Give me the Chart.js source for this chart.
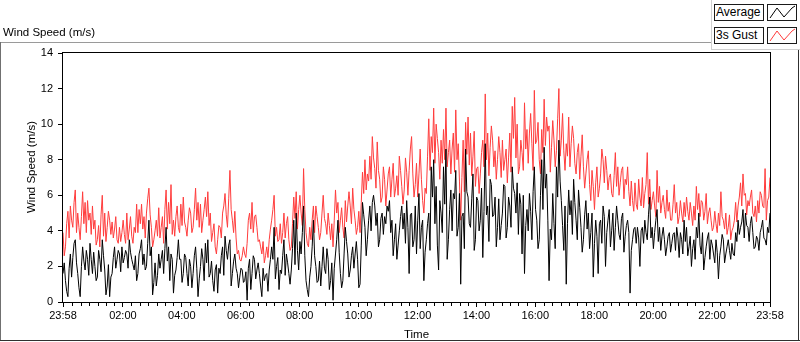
<!DOCTYPE html>
<html>
<head>
<meta charset="utf-8">
<script src="https://cdn.jsdelivr.net/npm/chart.js@4.4.0/dist/chart.umd.min.js"></script>
<style>
html,body{margin:0;padding:0;background:#fff;}
#wrap{position:relative;width:800px;height:342px;overflow:hidden;font-family:"Liberation Sans",Arial,sans-serif;color:#000;}
#c{position:absolute;left:0;top:0;}
.ln{position:absolute;}
.title{position:absolute;left:3px;top:26px;font-size:11.5px;line-height:12px;white-space:nowrap;}
.lgbox{position:absolute;box-sizing:border-box;border:1px solid #1a1a1a;background:#fff;font-size:12px;line-height:15px;padding-left:1px;white-space:nowrap;}
.lgicon{position:absolute;box-sizing:border-box;border:1px solid #1a1a1a;background:#fff;}
</style>
</head>
<body>
<div id="wrap">
  <canvas id="c" width="800" height="342"></canvas>
  <div class="ln" style="left:0;top:42px;width:712px;height:1px;background:#9a9a9a"></div>
  <div class="ln" style="left:0;top:42px;width:1px;height:299px;background:#707070"></div>
  <div class="ln" style="left:0;top:340px;width:800px;height:1px;background:#303030"></div>
  <div class="ln" style="left:798px;top:49px;width:1px;height:292px;background:#303030"></div>
  <div class="ln" style="left:711px;top:0;width:1px;height:50px;background:#d0d0d0"></div>
  <div class="ln" style="left:711px;top:49px;width:89px;height:1px;background:#d0d0d0"></div>
  <div class="title">Wind Speed (m/s)</div>
  <div class="lgbox" style="left:714px;top:4px;width:50px;height:17px;">Average</div>
  <div class="lgicon" style="left:767px;top:4px;width:30px;height:17px;">
    <svg width="28" height="15" style="position:absolute;left:0;top:0"><polyline points="2,13 9,3 16,12 24,3 27,1" fill="none" stroke="#000" stroke-width="1"/></svg>
  </div>
  <div class="lgbox" style="left:714px;top:27px;width:50px;height:17px;">3s Gust</div>
  <div class="lgicon" style="left:767px;top:27px;width:30px;height:17px;">
    <svg width="28" height="15" style="position:absolute;left:0;top:0"><polyline points="2,13 9,3 16,12 24,3 27,1" fill="none" stroke="#ff3c3c" stroke-width="1"/></svg>
  </div>
</div>
<script>
// Readings every 2.5 minutes starting 23:58.
// "On" = readings at 23:58 + 5k min, "Mid" = readings at 23:58 + 5k + 2.5 min
const SAMPLE_MIN = 2.5;

// Average wind speed (m/s), readings at 5-minute marks
const avgOn = [
1.6,1.2,0.3,2.7,2.5,3.5,1.6,0.3,3.1,1.8,2.4,3.3,1.6,2.0,1.4,2.4,3.5,1.8,0.9,0.3,1.6,3.1,2.4,2.7,3.1,2.5,2.7,3.5,2.4,1.8,1.2,2.7,3.5,2.7,2.0,4.6,3.1,1.1,0.9,2.7,2.4,1.6,4.2,3.1,2.7,0.5,1.8,3.5,
2.4,1.6,2.5,0.9,2.0,1.6,3.1,0.3,2.0,2.4,3.3,3.5,1.6,1.2,1.8,0.5,1.6,3.1,3.7,2.4,3.5,1.6,2.7,1.6,1.4,1.8,1.2,0.1,2.4,1.6,2.4,1.8,1.6,0.3,1.2,1.6,1.8,3.1,4.2,2.0,0.7,1.6,3.5,2.7,1.6,1.8,4.6,
5.0,1.8,2.7,5.4,1.2,0.3,2.0,4.6,2.0,1.2,0.9,3.1,1.6,2.4,1.2,0.1,2.7,4.6,1.6,1.2,4.2,2.7,1.8,3.1,2.7,2.4,1.0,5.6,4.2,3.5,5.4,5.6,5.4,5.0,3.5,5.0,4.8,5.4,5.7,4.6,3.5,2.4,4.0,5.4,5.0,5.7,1.6,
5.0,3.5,2.7,6.1,4.2,1.2,3.5,5.0,7.6,8.0,6.5,1.8,5.0,7.6,8.6,3.5,6.3,6.1,7.4,4.2,1.0,5.0,8.6,5.9,4.2,7.2,3.5,5.7,4.6,2.5,8.9,5.4,6.9,4.8,5.9,4.2,3.5,5.0,6.5,4.2,5.4,7.6,6.1,6.7,6.1,2.7,1.6,
5.2,6.1,3.5,7.6,4.6,3.5,8.0,8.7,7.2,1.2,3.5,4.4,7.6,9.1,5.7,2.9,1.0,6.3,5.7,6.9,4.6,6.3,4.2,3.5,5.7,5.0,3.9,1.4,4.6,1.6,4.6,5.4,2.0,4.6,3.1,5.0,4.2,4.6,3.5,5.0,3.7,4.6,0.5,3.5,4.2,4.2,2.0,
4.2,4.6,3.5,5.9,4.2,3.9,5.2,4.2,3.7,3.5,3.1,3.9,3.3,3.9,4.2,2.5,3.5,4.6,4.2,3.1,2.0,3.5,4.2,5.0,2.7,1.8,3.1,3.9,3.5,2.7,3.5,1.3,3.1,3.5,2.7,3.5,2.4,2.7,3.9,4.6,4.2,5.2,5.0,4.2,4.4,3.9,3.1,3.5,3.9,4.6,3.5,4.2,5.0
];
// Average wind speed (m/s), readings half-way between
const avgMid = [
2.2,0.6,1.9,1.4,3.3,2.2,0.8,2.0,2.3,2.9,1.5,2.4,2.8,1.2,2.9,1.7,2.6,0.4,2.1,1.4,2.5,1.9,2.9,1.7,2.2,2.9,1.9,2.8,2.1,2.6,1.6,3.0,2.1,1.8,3.3,2.6,0.4,2.2,1.5,1.9,2.9,3.0,2.3,1.2,2.4,1.5,2.5,2.4,
1.1,2.7,1.6,2.4,0.8,2.6,1.9,1.3,3.0,1.2,2.2,1.4,2.3,0.6,2.1,1.9,2.6,1.5,2.9,3.2,0.9,2.3,1.9,0.8,1.9,1.1,1.7,1.9,0.7,2.6,1.3,2.2,0.9,1.9,1.5,0.6,2.4,2.4,1.3,2.5,1.8,2.6,1.5,2.2,1.0,3.0,2.1,
2.9,3.4,3.9,2.6,0.7,1.4,3.1,2.6,1.1,2.3,2.0,1.9,3.0,0.7,2.2,1.9,3.5,2.8,0.8,2.7,3.4,1.4,2.6,1.9,3.4,0.8,3.2,4.9,2.6,4.6,4.0,6.0,4.3,3.1,4.7,3.8,4.4,5.1,3.9,2.6,4.4,3.2,4.8,4.1,3.3,4.2,4.9,
3.1,5.4,4.6,3.0,4.6,2.8,4.4,2.9,5.9,4.4,3.2,5.7,3.9,5.5,2.4,5.2,4.0,5.8,3.7,6.1,4.8,3.0,6.2,4.4,5.8,2.9,5.9,4.0,6.4,5.1,4.9,3.4,6.6,4.9,3.1,5.8,4.3,6.6,3.6,5.9,4.2,6.4,5.0,3.8,5.5,6.0,4.3,
4.0,5.1,6.2,5.2,3.0,6.0,5.2,6.4,4.6,4.1,6.1,3.0,5.9,6.8,4.3,5.4,4.4,4.9,3.8,5.6,3.5,5.3,2.8,4.9,4.1,3.0,5.0,3.3,3.7,4.4,3.3,4.8,3.9,5.2,4.0,2.9,5.4,3.8,4.7,2.8,4.3,3.9,2.9,4.1,3.3,3.6,4.0,
3.3,3.9,4.9,3.6,3.0,4.6,3.4,2.9,4.2,2.6,3.7,2.8,3.8,2.9,3.6,3.9,2.7,3.4,2.6,3.7,3.0,2.4,3.6,3.2,3.9,2.5,3.6,2.4,3.2,2.2,2.8,2.6,3.8,2.2,3.1,2.9,3.3,2.6,3.4,3.8,4.5,3.6,4.3,3.4,4.8,3.0,3.7,2.9,4.2,3.6,3.2,3.9
];

// 3 s gust wind speed (m/s), readings at 5-minute marks
const gustOn = [
3.9,3.1,5.1,5.4,4.2,6.3,5.0,3.5,6.2,5.6,5.7,5.0,5.4,4.6,3.5,3.1,6.0,5.0,4.2,4.6,4.5,4.1,3.5,4.2,3.9,3.8,5.0,4.1,3.7,4.2,5.5,5.2,5.5,4.8,5.0,6.4,4.2,3.5,4.6,5.3,4.2,3.3,6.3,5.6,6.6,4.6,4.8,4.2,
5.5,5.9,4.2,4.6,5.0,4.2,6.4,5.6,5.5,4.6,5.9,6.2,5.0,3.9,3.1,3.5,4.2,5.0,6.1,4.2,7.4,4.6,5.1,2.7,2.4,2.6,2.7,3.3,5.0,5.6,4.8,4.2,3.5,2.7,2.2,3.1,3.5,4.6,6.0,4.2,3.5,3.3,5.0,4.4,3.5,3.1,5.9,
6.2,5.2,5.0,7.5,3.9,3.1,3.5,5.4,5.4,4.2,3.9,6.0,4.4,5.0,3.5,3.1,6.3,5.6,4.6,4.2,5.7,5.4,5.4,6.4,4.6,4.2,3.9,7.3,8.0,7.2,8.2,9.3,7.5,9.0,6.9,5.9,6.9,6.3,7.6,6.9,5.9,7.1,8.2,6.5,6.3,7.3,7.4,
9.3,5.9,7.8,7.2,6.9,5.0,6.1,10.3,9.3,10.9,10.0,8.4,9.1,9.7,10.9,8.4,7.2,9.5,10.8,8.9,4.6,9.1,10.1,10.4,9.5,8.2,6.5,7.6,7.2,9.1,11.7,9.5,8.7,9.1,8.5,8.0,8.4,9.1,8.0,6.7,9.5,11.0,11.5,10.0,7.6,8.4,11.2,
9.7,9.5,8.9,11.9,9.1,8.0,9.7,11.4,10.4,9.9,8.7,9.1,8.5,12.0,9.1,8.5,8.9,10.4,8.9,9.2,7.2,8.9,8.2,7.6,7.2,8.5,5.7,6.5,6.7,5.9,7.2,8.0,8.2,6.3,7.2,5.9,8.4,7.6,6.7,7.6,6.9,7.6,5.4,5.7,6.7,5.2,5.9,
7.0,6.1,8.4,6.9,5.7,5.4,7.4,6.5,5.6,5.2,6.3,5.6,4.6,6.6,5.6,4.8,5.0,5.6,5.9,4.6,5.0,5.4,6.5,6.1,5.7,4.6,6.1,5.0,4.6,4.2,4.4,5.0,6.2,4.6,5.0,4.2,3.5,4.2,5.6,5.4,6.7,7.2,6.1,5.7,5.9,5.0,5.4,5.7,6.2,5.4,7.5,5.7,7.0
];
// 3 s gust wind speed (m/s), readings half-way between
const gustMid = [
2.6,4.4,3.6,4.6,5.6,3.9,4.2,4.8,4.4,3.9,4.6,3.8,4.1,3.2,4.3,4.9,3.7,3.4,5.1,3.8,3.6,4.8,3.3,3.4,4.6,3.3,3.5,4.8,3.3,3.9,3.9,4.4,4.1,3.6,5.8,4.9,3.1,4.0,3.7,3.6,4.8,5.2,4.1,4.4,3.8,3.7,5.4,3.9,
4.3,4.5,3.7,5.3,3.9,5.2,4.6,4.2,3.9,5.2,4.8,4.3,3.4,4.4,2.7,4.3,3.6,5.4,4.9,5.8,5.2,3.9,3.6,2.9,2.3,3.1,2.5,4.6,4.1,3.9,4.9,3.4,3.1,3.4,2.6,2.5,4.1,5.2,3.7,3.4,4.4,3.9,3.6,4.8,2.9,4.4,4.7,
4.1,6.0,4.3,5.2,3.3,4.2,4.6,3.9,4.8,3.5,5.0,4.7,3.8,4.3,4.4,4.6,5.0,3.9,5.3,3.6,4.5,6.2,4.4,5.2,3.8,5.1,5.6,6.1,6.3,6.8,6.9,8.1,6.4,7.4,5.6,7.6,5.4,7.2,5.9,7.8,6.4,6.0,7.4,5.5,8.1,6.0,8.6,
7.2,6.6,5.9,8.6,5.7,6.4,8.2,7.4,8.4,7.8,9.2,6.9,7.8,8.0,7.6,9.1,8.6,7.3,8.0,6.8,7.0,6.2,8.3,7.7,7.1,9.6,7.5,6.1,8.4,7.6,8.0,7.1,9.9,7.6,6.9,9.3,7.0,7.4,8.6,8.1,7.3,9.2,8.1,7.2,9.1,7.4,8.6,
7.8,10.6,7.4,8.9,10.1,7.2,8.4,8.8,9.6,7.3,10.2,7.6,10.3,8.2,10.6,7.4,8.2,7.6,9.9,7.8,8.4,6.9,9.4,6.4,8.0,6.6,7.4,5.2,7.6,6.4,8.6,6.7,7.4,7.0,6.1,7.1,6.5,6.0,7.4,5.8,6.6,6.2,6.8,5.1,5.5,6.9,5.4,
5.3,6.6,5.5,5.2,6.2,4.8,5.6,5.0,6.0,4.7,5.1,4.6,5.5,5.0,4.4,5.7,4.5,4.8,5.1,5.6,4.3,4.6,5.2,4.8,5.6,5.1,4.4,5.3,4.0,5.1,3.9,4.3,4.8,4.1,3.8,4.9,4.0,4.6,4.5,5.9,5.4,6.0,4.9,5.4,6.3,4.8,4.5,5.0,6.0,5.3,4.6,5.9
];

// Time axis: major tick positions (minutes after 23:58) and their labels
const majorTickMinutes = [0,122,242,362,482,602,722,842,962,1082,1202,1322,1440];
const majorTickLabels = ['23:58','02:00','04:00','06:00','08:00','10:00','12:00','14:00','16:00','18:00','20:00','22:00','23:58'];
const yTickValues = [0,2,4,6,8,10,12,14];

function merge(on, mid) {
  const out = [];
  for (let i = 0; i < on.length; i++) {
    out.push(on[i]);
    if (i < mid.length) out.push(mid[i]);
  }
  return out;
}
const avgSpeed = merge(avgOn, avgMid);
const gustSpeed = merge(gustOn, gustMid);
const minutes = avgSpeed.map((_, i) => i * SAMPLE_MIN);

// minor ticks: 7 intervals per 2-hour span
const minorTicks = [];
const MINOR = 120 / 7;
for (let k = 1; k <= 6; k++) minorTicks.push(122 - k * MINOR);
for (let j = 1; j < majorTickMinutes.length - 1; j++) {
  for (let k = 1; k <= 6; k++) {
    const v = majorTickMinutes[j] + k * MINOR;
    if (v < 1440) minorTicks.push(v);
  }
}

const FONT = '"Liberation Sans", Arial, sans-serif';

const framePlugin = {
  id: 'frame',
  afterDatasetsDraw(chart) {
    const {ctx, chartArea: a, scales} = chart;
    ctx.save();
    ctx.strokeStyle = '#000';
    ctx.lineWidth = 1;
    ctx.strokeRect(a.left - 0.5, a.top - 0.5, a.right - a.left + 1, a.bottom - a.top + 1);
    ctx.beginPath();
    minorTicks.forEach(v => {
      const x = Math.round(scales.x.getPixelForValue(v)) + 0.5;
      ctx.moveTo(x, a.bottom + 1);
      ctx.lineTo(x, a.bottom + 4);
    });
    ctx.stroke();
    ctx.fillStyle = '#000';
    ctx.font = '11.5px ' + FONT;
    ctx.textAlign = 'center';
    ctx.textBaseline = 'middle';
    ctx.translate(32, 167);
    ctx.rotate(-Math.PI / 2);
    ctx.fillText('Wind Speed (m/s)', 0, 0);
    ctx.restore();
  }
};

new Chart(document.getElementById('c').getContext('2d'), {
  type: 'line',
  data: {
    labels: minutes,
    datasets: [
      {label: 'Average', data: avgSpeed, borderColor: '#000000', borderWidth: 1, pointRadius: 0, tension: 0, fill: false},
      {label: '3s Gust', data: gustSpeed, borderColor: 'rgb(255,60,60)', borderWidth: 1, pointRadius: 0, tension: 0, fill: false}
    ]
  },
  options: {
    responsive: false,
    animation: false,
    devicePixelRatio: 1,
    events: [],
    layout: {padding: {left: 0, right: 30, top: 53, bottom: 0}},
    plugins: {legend: {display: false}, tooltip: {enabled: false}, title: {display: false}},
    scales: {
      x: {
        type: 'linear', min: 0, max: 1440,
        afterFit(s) { s.height = 40; },
        afterBuildTicks(s) { s.ticks = majorTickMinutes.map(v => ({value: v})); },
        grid: {display: true, drawOnChartArea: false, drawTicks: true, tickLength: 5, color: '#000', tickColor: '#000'},
        border: {display: false},
        ticks: {
          autoSkip: false, maxRotation: 0, minRotation: 0, padding: 2, color: '#000',
          font: {family: FONT, size: 11},
          callback: (v, i) => majorTickLabels[i]
        },
        title: {display: true, text: 'Time', color: '#000', font: {family: FONT, size: 11.5}, padding: {top: 0, bottom: 0}}
      },
      y: {
        min: 0, max: 14,
        afterFit(s) { s.width = 63; },
        afterBuildTicks(s) { s.ticks = yTickValues.map(v => ({value: v})); },
        grid: {display: true, drawOnChartArea: false, drawTicks: true, tickLength: 5, color: '#000', tickColor: '#000'},
        border: {display: false},
        ticks: {padding: 5, color: '#000', font: {family: FONT, size: 11}},
        title: {display: false}
      }
    }
  },
  plugins: [framePlugin]
});
</script>
</body>
</html>
